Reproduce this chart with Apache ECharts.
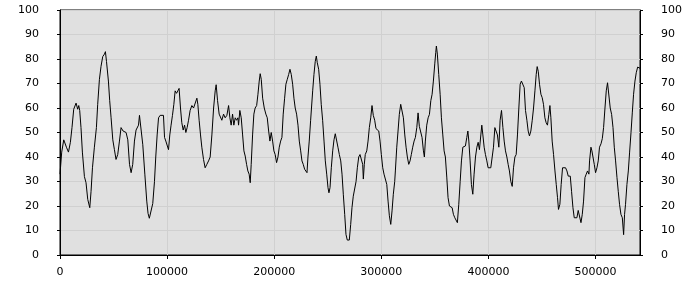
<!DOCTYPE html>
<html><head><meta charset="utf-8">
<script src="https://cdn.jsdelivr.net/npm/echarts@6/dist/echarts.min.js"></script>
<style>html,body{margin:0;padding:0;background:#fff}#c{width:700px;height:300px}</style>
</head><body><div id="c"></div>
<script>
const xMin = 0, xMax = 541500, xStep = 100000;
const yMin = 0, yMax = 100, yStep = 10;

const segA = [[0,33],[1600,42],[3500,47],[4700,47],[6000,44],[7900,42],[9700,46],[11200,52],[12800,59.5],[15000,62],[16500,59.5],[17500,61],[18400,59],[19600,52],[20900,42],[22800,32],[24300,29.5],[25900,22.7],[27800,19.3],[29000,26],[30300,35.6],[32100,44],[34000,52],[35200,61.5],[36800,71.7],[38300,77],[39900,81],[41500,82],[42400,83],[43400,79],[45200,71],[46400,63],[47700,56],[49300,47],[50800,43],[52300,39],[53900,41],[55500,46.5],[57000,52],[58900,50.6],[60200,51],[61700,50],[63300,47],[64900,37],[66400,33.6],[67900,37],[69500,46.5],[71000,51],[73300,53],[74200,57],[75700,56.7],[77300,45]];
const segB = [[79200,33],[81000,22],[82200,17],[83400,15],[85200,15],[86600,21],[88200,30],[89400,40],[90700,49],[92000,56],[93500,57],[95000,57],[96600,57],[97600,48],[98800,46.5],[100000,47],[101300,43],[102500,49],[103700,53],[105000,57],[106300,61.5],[107500,67],[108800,66],[110000,67],[111200,68],[112500,60],[113700,54],[115000,51],[116300,53],[117500,50],[118700,52],[120000,55],[121500,59],[123100,61],[124700,60],[126200,60.5],[127800,64],[128700,61.5],[129900,55],[131200,49],[132400,44],[134000,39],[135500,35.6],[137100,37],[138700,38.4],[140200,40],[141800,49],[143400,60],[144900,67],[145800,69.5],[147100,63],[148600,57.5],[149900,57],[151100,55],[152700,57.5],[154200,56],[155800,57]];
const segC = [[157400,61],[158600,56],[159800,53],[161100,57.5],[162300,53],[163600,56],[164900,55],[166100,56],[166700,53],[167900,59],[169200,56],[170500,49],[171700,42.5],[172900,40.4],[174200,37],[175400,34.3],[176600,33],[177600,29.5],[178500,37],[179800,49],[181000,57.5],[182200,60],[183600,61],[184800,65.6],[186000,71],[186900,74],[187900,71.7],[189200,64],[190700,60],[192200,57.5],[193500,56],[194800,50.6],[196000,46.5],[197200,50],[198500,46.5],[199700,42.5],[200900,41],[202200,37.7],[203500,40],[204700,44],[206000,46.5],[207200,48],[208400,57.5],[209700,64],[210900,69.7],[212200,71.7],[213500,73.7],[214700,75.8],[215900,73.7],[217200,69.7],[218400,64],[219600,60],[220900,57.5],[222200,53],[223400,46.5],[224700,42.5],[225900,38.4],[227100,37],[228400,35],[229600,35.6],[230600,33.6],[231500,40],[232700,46.5],[234000,55]];
const segD = [[235900,67],[237100,73.7],[238300,79],[239300,81.2],[240200,78.5],[241500,75.8],[242700,69.7],[243900,61.5],[245200,55],[246500,46.5],[247700,38.4],[249000,33],[250200,27.5],[251100,25.4],[252100,27.5],[253300,35.6],[254600,42.5],[255800,47],[257000,49.5],[258300,49],[259500,44],[260800,41],[262100,38.4],[263300,33],[264500,24.8],[265800,16.6],[267000,8.4],[268200,6.1],[270100,6.1],[271400,12.5],[272600,19.3],[273800,24],[275100,24.8],[276400,30],[277600,35.6],[278900,40],[280100,41],[281300,41.8],[282600,37],[283200,31],[284100,37],[285000,41],[286400,42.5],[287600,46.5],[288800,52],[290100,56],[291300,61],[292500,57],[293800,55],[295000,51.6],[296300,52],[297600,50.6],[298800,46.5],[300000,41],[301300,35.6],[302500,33],[303700,33],[305100,28.8],[306300,22],[307500,16],[308800,12.5],[310000,18],[311200,24.8],[312500,30]];
const segE = [[313100,34.3],[314400,44],[315600,50.6],[316800,57.4],[318100,61.5],[319400,61.5],[320600,56],[321900,49],[323100,44],[324300,40],[325600,37],[326800,38.4],[328000,41],[329300,44],[330600,46.5],[331800,48],[333100,52],[334300,58],[335500,52.5],[336800,52],[338000,48],[339300,42.5],[340200,40],[341100,46.5],[342400,53],[343700,56],[344900,57.4],[346200,63],[347400,65.6],[348600,71],[349900,78],[350800,82.6],[351400,85.3],[352300,82],[353600,73.7],[354900,65.6],[356100,56],[357400,49],[358600,42.5],[359800,40],[361100,31.8],[362300,23.4],[363600,20],[364900,19.3],[366100,19.3],[367300,16.6],[368600,15.2],[369800,14.6],[371000,13.2],[372300,20.7],[373600,30],[374800,38.4],[376100,44],[377300,44],[378500,44.5],[379800,48],[380800,50.6],[381700,46.5],[382900,38.4],[384100,28.8],[385400,24.8],[386600,33],[387900,40],[389200,44],[390400,46],[391600,43]];
const segF = [[392900,49],[393800,53],[394800,49],[396000,44],[397200,41],[398500,38.4],[399700,35.6],[400900,36.3],[402200,35.6],[403500,35.6],[404700,44],[406000,52],[407200,52],[408400,49],[409700,44],[410900,55],[412200,59],[413500,52],[414700,46.5],[415900,42.5],[417200,40],[418400,37],[419600,34.3],[420900,30],[422200,28],[423400,35.6],[424700,40],[425900,41],[427100,49],[428400,60],[429600,69.7],[430800,71],[432200,70.3],[433400,68.3],[434600,59],[435900,55],[437100,50.6],[438300,48.6],[439600,50.6],[440900,55],[442100,60],[443400,67],[444600,73.7],[445500,76.9],[446500,75],[447700,69.7],[449000,65.6],[450200,64.2],[451400,61.5],[452700,56],[453900,54],[455100,53],[456400,57.4],[457400,61],[458300,56],[459500,46.5],[460800,41],[462100,34.3],[463300,28.8],[464500,23.4],[465400,18.6],[466700,20.7],[467900,28.8],[469200,35.6],[470500,36.3]];
const segG = [[472000,35.6],[473300,34.3],[474500,32.2],[476400,32.2],[477600,26],[478900,19.3],[480100,15.2],[481300,15.2],[482600,15.2],[483800,18.2],[485100,18.2],[486400,13.2],[487600,16.6],[488800,22],[490100,31.6],[491300,33],[492500,34.3],[493800,33],[494400,38.4],[495700,44],[496600,42.5],[497600,40],[498800,37],[500000,33.6],[501300,35.6],[502500,38.4],[503700,44],[505100,45.4],[506300,47.5],[507500,52],[508800,60],[510000,67],[511200,70.3],[512500,71],[513700,60],[515000,57.4],[516300,52],[517500,44],[518700,38.4],[520000,31.6],[521200,26],[522400,20.7],[523700,16.6],[525000,15.2],[526200,8.3],[527100,16.6],[528000,20.7],[529300,28.8],[530600,34.3],[531800,42],[533100,50],[534300,58],[535500,65.6],[536800,71],[538000,74.4],[539300,76.7],[540600,76.5],[541500,76.2]];

const data = [].concat(segA, segB, segC, segD, segE, segF, segG);

const font = 'DejaVu Sans';
const gridColor = '#d0d0d0';
function yAxisDef(pos, split) {
  return {
    type: 'value', position: pos, min: yMin, max: yMax, interval: yStep,
    axisLine: { show: true, lineStyle: { color: '#000', width: 1 } },
    axisTick: { show: true, length: 3, lineStyle: { color: '#000' } },
    axisLabel: { color: '#000', fontFamily: font, fontSize: 11, margin: 21 },
    splitLine: { show: split, lineStyle: { color: gridColor, width: 1 } }
  };
}
const chart = echarts.init(document.getElementById('c'), null, { renderer: 'canvas' });
chart.setOption({
  animation: false,
  backgroundColor: '#fff',
  grid: { left: 60, right: 60, top: 10, bottom: 45, show: true, backgroundColor: '#e0e0e0', borderColor: '#000', borderWidth: 1 },
  xAxis: {
    type: 'value', min: xMin, max: xMax, interval: xStep,
    axisLine: { show: true, onZero: false, lineStyle: { color: '#000', width: 1 } },
    axisTick: { show: true, length: 4, lineStyle: { color: '#000' } },
    axisLabel: { color: '#000', fontFamily: font, fontSize: 11, margin: 12, showMaxLabel: false, formatter: v => String(v) },
    splitLine: { show: true, lineStyle: { color: gridColor, width: 1 } }
  },
  yAxis: [yAxisDef('left', true), yAxisDef('right', false)],
  series: [{
    type: 'line', data: data, yAxisIndex: 0, symbol: 'none', showSymbol: false,
    lineStyle: { color: '#000', width: 1 }, silent: true
  }]
});
</script></body></html>
